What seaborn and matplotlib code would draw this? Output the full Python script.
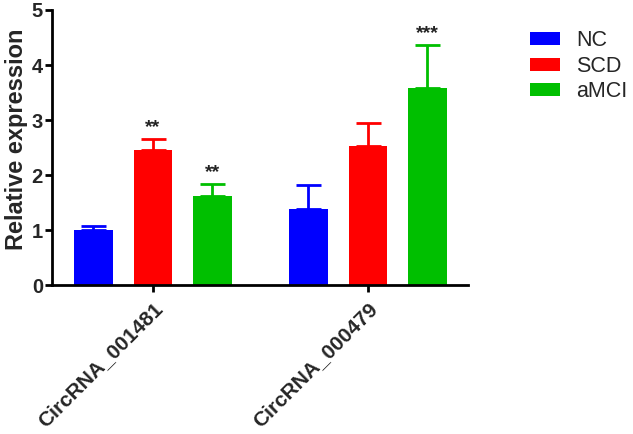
import matplotlib
matplotlib.use("Agg")
import matplotlib.pyplot as plt
import seaborn as sns
import pandas as pd

genes = ["CircRNA_001481", "CircRNA_000479"]
groups = ["NC", "SCD", "aMCI"]
nc_vals = [1.00, 1.39]
scd_vals = [2.46, 2.53]
amci_vals = [1.62, 3.59]
nc_err = [0.07, 0.43]
scd_err = [0.19, 0.41]
amci_err = [0.22, 0.77]
stars_scd = ["**", ""]
stars_amci = ["**", "***"]
stars_nc = ["", ""]
colors = ["#0000FF", "#FF0000", "#00BF00"]

rows = []
for g, vals in zip(groups, [nc_vals, scd_vals, amci_vals]):
    for gene, v in zip(genes, vals):
        rows.append({"gene": gene, "group": g, "value": v})
df = pd.DataFrame(rows)

sns.set_style("ticks")
plt.rcParams["font.family"] = ["Liberation Sans", "DejaVu Sans"]

fig = plt.figure(figsize=(6.33, 4.34), dpi=100)
ax = fig.add_axes([0.082, 0.343, 0.657, 0.634])

sns.barplot(data=df, x="gene", y="value", hue="group", palette=colors,
            width=0.83, gap=0.35, errorbar=None, saturation=1, ax=ax,
            linewidth=0)

errs = [nc_err, scd_err, amci_err]
vals_all = [nc_vals, scd_vals, amci_vals]
stars_all = [stars_nc, stars_scd, stars_amci]
for cont, col, vals, es, sts in zip(ax.containers, colors, vals_all, errs, stars_all):
    for bar, v, e, s in zip(cont, vals, es, sts):
        xc = bar.get_x() + bar.get_width() / 2
        ax.errorbar(xc, v, yerr=[[0], [e]], color=col, elinewidth=2,
                    capsize=9, capthick=2, zorder=1)
        if s:
            ax.text(xc, v + e + 0.06, s, ha="center", va="bottom",
                    fontsize=14, fontweight="bold", color="#222222")

ax.set_xlim(-0.47, 1.465)
ax.set_ylim(0, 5)
ax.set_yticks([0, 1, 2, 3, 4, 5])
ax.set_xlabel("")
ax.set_ylabel("Relative expression", fontsize=17, fontweight="bold")
ax.yaxis.set_label_coords(-0.058, 0.53)
for sp in ["top", "right"]:
    ax.spines[sp].set_visible(False)
for sp in ["left", "bottom"]:
    ax.spines[sp].set_linewidth(2)
    ax.spines[sp].set_color("black")
ax.tick_params(axis="both", width=2, length=5, color="black", pad=1.5)
ax.tick_params(axis="x", pad=5)
for lab in ax.get_yticklabels():
    lab.set_fontsize(14.5)
    lab.set_fontweight("bold")
ax.set_xticks([0, 1])
ax.set_xticklabels(genes, rotation=45, ha="right", rotation_mode="anchor",
                   fontsize=15, fontweight="bold")

handles, labels = ax.get_legend_handles_labels()
if ax.get_legend() is not None:
    ax.get_legend().remove()
fig.legend(handles, labels, loc="upper left", bbox_to_anchor=(0.837, 0.93),
           frameon=False, fontsize=15.5, borderpad=0, borderaxespad=0,
           handlelength=1.4, handleheight=0.56, handletextpad=0.75,
           labelspacing=0.2)

fig.savefig("out.png", dpi=100)
